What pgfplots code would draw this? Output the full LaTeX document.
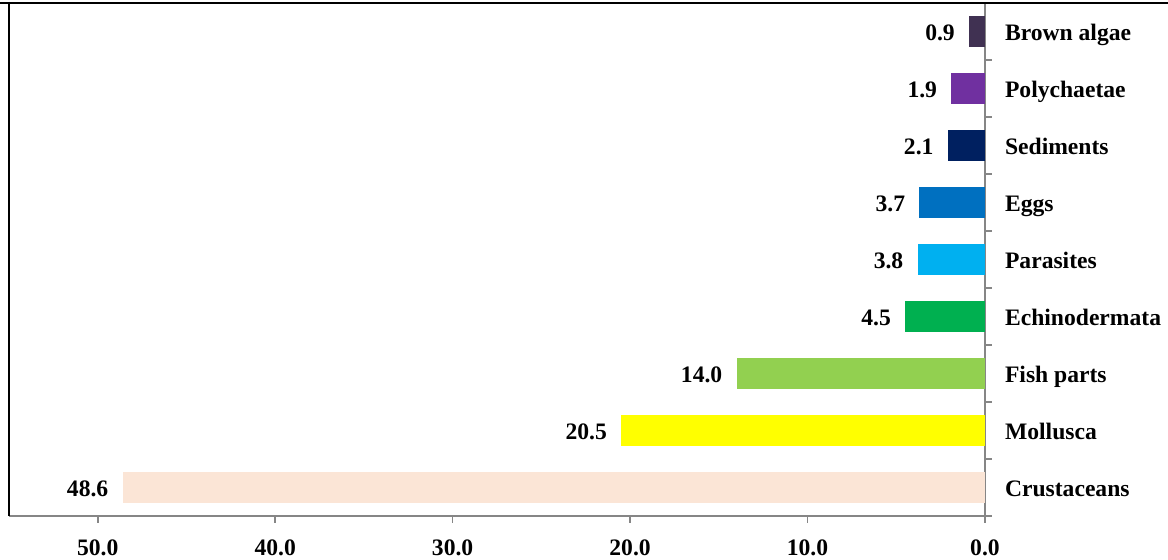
\documentclass[border=0pt]{standalone}
\usepackage{fontspec}
\setmainfont{Liberation Serif}
\usepackage{pgfplots}
\pgfplotsset{compat=1.18}

\definecolor{cBrown}{HTML}{403152}
\definecolor{cPoly}{HTML}{7030A0}
\definecolor{cSed}{HTML}{002060}
\definecolor{cEggs}{HTML}{0070C0}
\definecolor{cPara}{HTML}{00B0F0}
\definecolor{cEchi}{HTML}{00B050}
\definecolor{cFish}{HTML}{92D050}
\definecolor{cMoll}{HTML}{FFFF00}
\definecolor{cCrus}{HTML}{FBE5D6}
\definecolor{axgray}{HTML}{868686}

\newcommand{\lblfont}{\fontsize{11.8}{14}\selectfont\bfseries}

\begin{document}
\begin{tikzpicture}
\path[use as bounding box] (0pt,0pt) rectangle (584pt,280pt);
\begin{axis}[
  at={(4.5pt,22pt)}, anchor=south west,
  width=488pt, height=256.5pt, scale only axis,
  xmin=0, xmax=55, x dir=reverse,
  ymin=-0.5, ymax=8.5,
  separate axis lines,
  axis x line*=bottom, axis y line*=right,
  x axis line style={draw=axgray, line width=1pt, -},
  y axis line style={draw=axgray, line width=1pt, -},
  xtick={0,10,...,50},
  xticklabel style={yshift=-5pt, /pgf/number format/fixed, /pgf/number format/fixed zerofill, /pgf/number format/precision=1},
  /pgf/number format/assume math mode=true,
  % category boundaries carry the tick marks
  ytick={-0.5,0.5,...,8.5},
  yticklabels={},
  % category names sit at the bar centres
  extra y ticks={0,...,8},
  extra y tick labels={Crustaceans,Mollusca,Fish parts,Echinodermata,Parasites,Eggs,Sediments,Polychaetae,Brown algae},
  extra y tick style={tick style={draw=none}},
  major tick length=3.5pt,
  tick align=outside,
  tick style={draw=axgray, line width=0.8pt},
  every tick label/.append style={font=\lblfont, text=black},
  yticklabel style={anchor=base west, xshift=3pt, yshift=-4.3pt},
  xbar, bar width=0.56, bar shift=0pt,
  nodes near coords,
  nodes near coords style={font=\lblfont, text=black,
    /pgf/number format/fixed, /pgf/number format/fixed zerofill, /pgf/number format/precision=1},
  every node near coord/.append style={anchor=base east, xshift=-3.6pt, yshift=-4.3pt},
]
\addplot[draw=none, fill=cCrus] coordinates {(48.6,0)};
\addplot[draw=none, fill=cMoll] coordinates {(20.5,1)};
\addplot[draw=none, fill=cFish] coordinates {(14.0,2)};
\addplot[draw=none, fill=cEchi] coordinates {(4.5,3)};
\addplot[draw=none, fill=cPara] coordinates {(3.8,4)};
\addplot[draw=none, fill=cEggs] coordinates {(3.7,5)};
\addplot[draw=none, fill=cSed] coordinates {(2.1,6)};
\addplot[draw=none, fill=cPoly] coordinates {(1.9,7)};
\addplot[draw=none, fill=cBrown] coordinates {(0.9,8)};
\end{axis}
% outer chart frame (top and left edges)
\draw[black, line width=1pt] (0pt,278.6pt) -- (584pt,278.6pt);
\draw[black, line width=1pt] (4.6pt,279pt) -- (4.6pt,22pt);
\end{tikzpicture}
\end{document}
